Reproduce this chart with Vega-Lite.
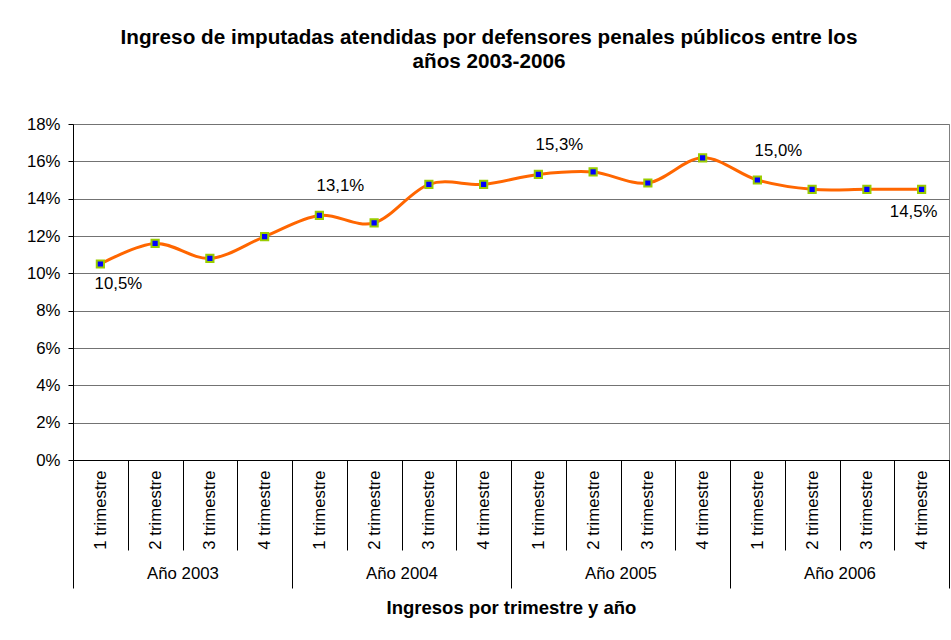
{
  "$schema": "https://vega.github.io/schema/vega-lite/v6.json",
  "width": 876,
  "height": 336,
  "autosize": {"type": "none"},
  "padding": {"left": 73, "top": 124, "right": 2, "bottom": 180},
  "background": "white",
  "config": {
    "font": "Liberation Sans",
    "locale": {"number": {"decimal": ",", "thousands": ".", "grouping": [3], "currency": ["", " €"]}},
    "view": {"stroke": "#808080", "strokeWidth": 1},
    "axis": {"labelFont": "Liberation Sans", "labelColor": "#000000", "labelFontSize": 16.8, "titleFont": "Liberation Sans", "titleColor": "#000000"}
  },
  "title": {
    "text": ["Ingreso de imputadas atendidas por defensores penales públicos entre los", "años 2003-2006"],
    "font": "Liberation Sans",
    "fontSize": 20.7,
    "fontWeight": "bold",
    "color": "#000000",
    "anchor": "middle",
    "dx": -22,
    "offset": 43,
    "lineHeight": 24
  },
  "data": {
    "values": [
      {"anio": 2003, "trimestre": 1, "n": 1, "valor": 0.105},
      {"anio": 2003, "trimestre": 2, "n": 2, "valor": 0.116},
      {"anio": 2003, "trimestre": 3, "n": 3, "valor": 0.108},
      {"anio": 2003, "trimestre": 4, "n": 4, "valor": 0.1197},
      {"anio": 2004, "trimestre": 1, "n": 5, "valor": 0.131},
      {"anio": 2004, "trimestre": 2, "n": 6, "valor": 0.127},
      {"anio": 2004, "trimestre": 3, "n": 7, "valor": 0.1477},
      {"anio": 2004, "trimestre": 4, "n": 8, "valor": 0.1477},
      {"anio": 2005, "trimestre": 1, "n": 9, "valor": 0.153},
      {"anio": 2005, "trimestre": 2, "n": 10, "valor": 0.1543},
      {"anio": 2005, "trimestre": 3, "n": 11, "valor": 0.1484},
      {"anio": 2005, "trimestre": 4, "n": 12, "valor": 0.1619},
      {"anio": 2006, "trimestre": 1, "n": 13, "valor": 0.15},
      {"anio": 2006, "trimestre": 2, "n": 14, "valor": 0.145},
      {"anio": 2006, "trimestre": 3, "n": 15, "valor": 0.145},
      {"anio": 2006, "trimestre": 4, "n": 16, "valor": 0.145}
    ]
  },
  "encoding": {
    "y": {
      "field": "valor", "type": "quantitative",
      "scale": {"domain": [0, 0.18], "nice": false, "zero": true},
      "axis": {"values": [0, 0.02, 0.04, 0.06, 0.08, 0.1, 0.12, 0.14, 0.16, 0.18], "format": ".0%", "tickSize": 5, "tickColor": "#000000", "domainColor": "#000000", "domainWidth": 1, "labelPadding": 8, "labelOverlap": false, "labelFlush": false, "grid": true, "gridColor": "#737373", "gridWidth": 1.2, "title": null}
    }
  },
  "layer": [
    {
      "mark": {"type": "line", "color": "#FF6600", "strokeWidth": 3, "interpolate": "cardinal"},
      "encoding": {
        "x": {
          "field": "n", "type": "quantitative",
          "scale": {"domain": [0.5, 16.5], "nice": false, "zero": false},
          "axis": {"orient": "bottom", "values": [0.5, 1.5, 2.5, 3.5, 4.5, 5.5, 6.5, 7.5, 8.5, 9.5, 10.5, 11.5, 12.5, 13.5, 14.5, 15.5, 16.5], "tickSize": 90, "tickColor": "#000000", "tickWidth": 1, "labels": false, "domain": true, "domainColor": "#000000", "domainWidth": 1, "grid": false, "title": null}
        }
      }
    },
    {
      "mark": {"type": "point", "shape": "square", "filled": true, "fill": "#0000FF", "stroke": "#99CC00", "strokeWidth": 2, "size": 52, "opacity": 1},
      "encoding": {
        "x": {
          "field": "n", "type": "quantitative",
          "axis": {"orient": "bottom", "values": [1, 2, 3, 4, 5, 6, 7, 8, 9, 10, 11, 12, 13, 14, 15, 16], "ticks": false, "domain": false, "grid": false, "labelAngle": 270, "labelAlign": "right", "labelBaseline": "middle", "labelPadding": 10, "labelExpr": "((datum.value - 1) % 4 + 1) + ' trimestre'", "labelOverlap": false, "labelFlush": false, "labelBound": false, "title": null}
        }
      }
    },
    {
      "transform": [{"filter": "datum.n == 5 || datum.n == 9 || datum.n == 13"}],
      "mark": {"type": "text", "dx": 21, "dy": -29, "fontSize": 16.8, "color": "#000000", "font": "Liberation Sans"},
      "encoding": {
        "x": {
          "field": "n", "type": "quantitative",
          "axis": {"orient": "bottom", "values": [0.5, 4.5, 8.5, 12.5, 16.5], "tickSize": 128, "tickColor": "#000000", "tickWidth": 1, "labels": false, "domain": false, "grid": false, "title": null}
        },
        "text": {"field": "valor", "type": "quantitative", "format": ".1%"}
      }
    },
    {
      "transform": [{"filter": "datum.n == 1"}],
      "mark": {"type": "text", "dx": 18, "dy": 20, "fontSize": 16.8, "color": "#000000", "font": "Liberation Sans"},
      "encoding": {
        "x": {
          "field": "n", "type": "quantitative",
          "axis": {"orient": "bottom", "values": [2.5, 6.5, 10.5, 14.5], "ticks": false, "domain": false, "grid": false, "labelPadding": 105, "labelExpr": "'Año ' + (2003 + floor(datum.value / 4))", "labelOverlap": false, "labelFlush": false, "title": "Ingresos por trimestre y año", "titleFontSize": 18.5, "titleFontWeight": "bold", "titlePadding": 17}
        },
        "text": {"field": "valor", "type": "quantitative", "format": ".1%"}
      }
    },
    {
      "transform": [{"filter": "datum.n == 16"}],
      "mark": {"type": "text", "dx": -8, "dy": 23, "fontSize": 16.8, "color": "#000000", "font": "Liberation Sans"},
      "encoding": {
        "x": {"field": "n", "type": "quantitative", "axis": null},
        "text": {"field": "valor", "type": "quantitative", "format": ".1%"}
      }
    }
  ],
  "resolve": {"axis": {"x": "independent"}}
}
